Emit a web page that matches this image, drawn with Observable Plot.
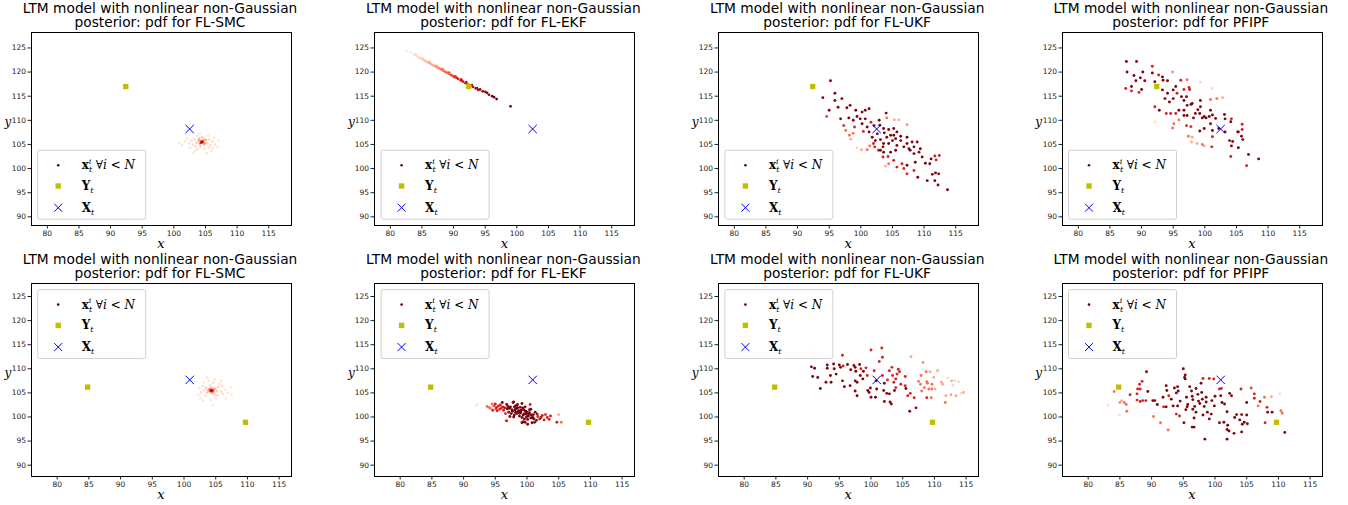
<!DOCTYPE html>
<html><head><meta charset="utf-8">
<script src="https://cdn.jsdelivr.net/npm/d3@7"></script>
<script src="https://cdn.jsdelivr.net/npm/@observablehq/plot@0.6"></script>
<style>
body{margin:0;background:#fff;}
#root{position:relative;width:1348px;height:505px;overflow:hidden;background:#fff;}
#root svg{position:absolute;}
</style></head><body><div id="root"></div>
<script>
// ---- data ----
const methods = ["FL-SMC", "FL-EKF", "FL-UKF", "PFIPF"];
const xTicks = [80, 85, 90, 95, 100, 105, 110, 115];
const yTicks = [90, 95, 100, 105, 110, 115, 120, 125];
const xDomTop = [77.5, 118.6], yDomTop = [88.2, 128.2];
const xDomBot = [75.95, 116.95], yDomBot = [87.65, 127.7];
const obsTop = [[92.4, 117.0]];
const truthTop = [[102.5, 108.2]];
const obsBot = [[84.8, 106.2], [109.7, 98.9]];
const truthBot = [[100.9, 107.7]];

// particles: [x, y, weight]
const smcTop = [[104.4,105.5,.9],[104.5,105.6,.75],[104.3,105.3,.65],[104.6,105.4,.55],[104.2,105.7,.45],[104.7,105.8,.4],[104.1,105.2,.4],[104.9,105.3,.35],[103.9,105.9,.3],[104.8,105.0,.3],[104.0,106.2,.25],[105.1,105.9,.25],[103.6,105.4,.2],[105.3,105.2,.2],[104.5,106.5,.18],[104.2,104.6,.18],[103.3,106.1,.16],[105.6,106.0,.16],[105.8,104.8,.14],[103.0,104.9,.14],[102.8,105.8,.13],[106.1,105.6,.13],[104.8,104.1,.13],[103.7,106.8,.12],[105.4,106.8,.12],[102.4,105.2,.11],[106.5,105.0,.11],[101.7,105.6,.1],[106.9,104.5,.1],[103.5,103.8,.11],[105.9,103.7,.1],[102.6,104.3,.1],[104.1,107.2,.1],[106.4,106.4,.1],[101.3,104.8,.09],[107.0,105.8,.09],[103.1,103.3,.09],[105.2,103.2,.09],[100.9,105.3,.09],[103.4,104.6,.14],[105.5,104.3,.13],[102.1,106.3,.1],[104.9,106.2,.15],[103.8,104.1,.12],[106.2,104.2,.1]];
const ekfTop = [[82.6,124.4,.08],[83.2,124.0,.1],[83.8,123.6,.12],[84.1,123.4,.13],[84.4,123.1,.15],[84.7,122.9,.16],[85.0,122.7,.18],[85.3,122.5,.2],[85.5,122.3,.22],[85.8,122.1,.25],[86.1,121.9,.27],[86.4,121.7,.29],[86.6,121.5,.3],[86.9,121.3,.33],[87.2,121.1,.35],[87.5,120.9,.38],[87.7,120.8,.4],[88.0,120.6,.43],[88.2,120.4,.45],[88.5,120.2,.48],[88.7,120.0,.5],[89.0,119.9,.53],[89.2,119.7,.55],[89.5,119.5,.58],[89.7,119.3,.6],[90.0,119.1,.63],[90.2,118.9,.65],[90.5,118.8,.68],[90.7,118.6,.7],[91.1,118.3,.72],[91.3,118.2,.74],[91.5,118.0,.75],[91.9,117.7,.78],[92.3,117.4,.8],[92.7,117.2,.82],[93.1,116.9,.85],[93.5,116.6,.87],[93.9,116.3,.9],[94.2,116.4,.92],[94.6,116.0,.93],[95.3,115.7,.95],[95.6,115.3,.95],[96.1,115.0,.97],[96.8,114.4,1],[99.0,112.9,1],
  [84.0,123.7,.12],[85.1,122.9,.18],[86.2,122.1,.26],[87.3,121.3,.34],[88.3,120.6,.44],[89.3,119.9,.55],[90.3,119.1,.66],[91.2,118.5,.73],[92.0,117.9,.78],[92.9,117.3,.84],[93.7,116.7,.88],[95.0,115.9,.94],[96.4,114.8,.97]];
const ukfTop = [[95.2,118.2,.95],[94.0,114.7,.95],[95.9,115.6,.95],[95.9,114.1,.95],[97.0,114.5,.95],[94.6,110.8,.6],[95.0,112.1,.95],[96.4,112.7,.95],[97.8,112.6,.95],[98.3,113.1,.95],[96.8,110.3,.95],[97.3,108.9,.72],[97.6,107.9,.48],[98.1,110.5,.95],[98.8,110.0,.95],[99.2,112.1,.95],[99.4,110.8,.95],[98.2,106.9,.48],[98.8,107.3,.48],[98.4,106.1,.28],[99.0,108.6,.72],[99.9,110.3,.95],[100.2,109.3,.95],[100.2,111.7,.95],[100.7,112.1,.95],[101.3,112.4,.95],[100.7,110.3,.95],[101.0,108.6,.95],[100.4,107.7,.72],[101.6,109.6,.72],[102.1,108.9,.95],[102.9,110.0,.95],[103.0,109.0,.95],[104.0,111.5,.95],[104.1,110.5,.48],[105.3,110.1,.3],[106.0,110.1,.3],[107.3,109.1,.38],[103.6,108.3,.95],[103.7,107.4,.95],[104.4,108.1,.95],[105.2,108.3,.95],[105.7,107.6,.95],[106.3,106.7,.95],[104.1,106.5,.95],[104.7,106.9,.95],[105.2,106.9,.95],[103.1,106.0,.95],[103.6,105.2,.95],[104.4,105.2,.95],[105.7,104.8,.95],[106.8,104.5,.95],[107.3,105.2,.95],[108.1,105.5,.95],[108.9,105.5,.95],[107.8,103.8,.95],[108.4,103.1,.95],[109.2,103.4,.95],[109.7,102.4,.95],[110.9,101.0,.95],[111.1,102.0,.95],[111.7,102.6,.72],[112.4,102.7,.72],[111.9,101.8,.72],[111.3,98.8,.95],[111.8,99.1,.95],[112.3,98.9,.95],[111.7,97.5,.95],[112.2,96.6,.95],[113.7,95.6,.95],[110.5,97.5,.95],[109.0,98.2,.95],[108.4,99.6,.72],[107.3,100.7,.95],[106.8,100.0,.72],[107.3,98.9,.72],[106.5,101.0,.72],[105.7,100.3,.72],[105.2,101.7,.72],[104.4,101.0,.48],[103.9,100.5,.28],[104.3,102.5,.72],[103.5,102.4,.72],[102.8,103.8,.72],[102.2,104.5,.72],[101.4,104.7,.48],[101.0,103.9,.48],[100.1,103.9,.3],[99.4,104.3,.15],[103.5,104.5,.95],[103.1,103.8,.95],[101.8,106.5,.95],[102.3,105.8,.95],[102.6,107.2,.95],[101.3,107.6,.95],[102.0,105.2,.72],[103.6,103.4,.95],[104.7,103.4,.95],[105.5,103.8,.95],[106.3,105.8,.95],[105.0,105.8,.95],[105.5,106.2,.95],[107.3,106.5,.95],[107.6,104.1,.95],[108.4,104.5,.95],[109.4,104.1,.95],[110.2,101.1,.95],[108.6,101.3,.95]];
const pfipfTop = [[87.6,122.2,.95],[89.2,122.2,.95],[87.7,120.0,.95],[87.5,116.6,.72],[88.4,117.0,.95],[88.4,116.1,.72],[88.8,119.3,.95],[89.8,118.8,.95],[89.1,118.2,.95],[90.2,120.0,.95],[90.5,118.2,.95],[90.0,116.4,.95],[89.6,115.8,.72],[91.7,121.2,.72],[91.7,119.8,.95],[92.7,119.4,.72],[93.3,119.0,.95],[93.4,118.3,.95],[94.1,118.2,.95],[94.9,120.0,.38],[92.1,118.0,.95],[92.1,112.8,.72],[92.8,112.1,.95],[93.3,116.3,.95],[93.7,114.5,.95],[94.1,115.6,.95],[94.4,113.8,.95],[95.0,116.3,.95],[95.0,114.5,.95],[95.4,117.0,.95],[95.6,115.6,.72],[96.2,118.3,.72],[96.7,116.4,.72],[96.3,114.9,.95],[96.7,114.1,.95],[97.1,114.9,.95],[97.2,118.4,.48],[97.5,116.8,.72],[97.6,116.4,.72],[97.8,113.3,.95],[97.2,113.1,.95],[98.0,113.5,.95],[96.7,112.1,.95],[95.9,112.1,.95],[95.4,111.4,.72],[94.6,111.4,.72],[93.9,111.4,.72],[95.9,110.1,.48],[95.1,109.3,.48],[94.9,108.4,.48],[96.7,111.0,.95],[97.2,111.0,.95],[97.1,108.9,.72],[97.8,108.7,.72],[97.4,106.7,.48],[98.0,106.5,.3],[97.9,105.5,.3],[98.8,105.2,.3],[98.2,110.5,.95],[98.5,111.4,.95],[98.9,112.2,.95],[99.3,114.1,.95],[99.3,112.8,.95],[99.2,111.4,.95],[99.6,110.5,.95],[99.9,110.8,.95],[100.2,110.5,.95],[99.9,108.3,.95],[99.2,107.8,.95],[99.3,117.9,.15],[99.6,105.0,.48],[99.9,104.7,.3],[100.9,112.1,.95],[101.2,111.1,.95],[100.7,110.8,.95],[100.9,109.3,.95],[101.2,107.9,.95],[101.2,106.6,.72],[101.1,104.5,.72],[101.1,116.6,.15],[101.9,114.5,.48],[100.9,114.3,.48],[101.7,110.4,.95],[102.2,108.3,.95],[103.1,111.2,.95],[103.2,110.3,.95],[102.8,114.7,.3],[103.2,107.6,.95],[104.2,110.3,.72],[104.1,109.7,.95],[103.9,105.8,.95],[104.4,105.6,.95],[104.2,104.7,.95],[104.1,102.5,.72],[105.2,107.6,.95],[105.3,107.6,.95],[105.3,104.3,.95],[105.9,109.2,.72],[105.9,108.1,.72],[105.8,106.7,.95],[106.0,106.0,.95],[106.9,102.9,.95],[106.6,100.6,.72],[108.5,102.0,.95],[92.1,109.7,.12]];
const smcBot = [[104.3,105.5,.9],[104.4,105.4,.75],[104.2,105.6,.65],[104.5,105.7,.55],[104.1,105.3,.5],[104.7,105.5,.45],[104.0,105.8,.4],[104.6,105.1,.35],[103.8,105.5,.3],[104.9,105.9,.28],[104.3,106.1,.25],[104.4,104.9,.25],[105.2,105.4,.2],[103.5,106.0,.2],[103.6,105.0,.18],[105.4,106.2,.17],[104.9,104.6,.16],[103.2,105.5,.15],[105.8,105.3,.14],[104.1,106.7,.14],[103.0,106.4,.13],[106.1,104.8,.13],[104.6,107.1,.12],[103.4,104.4,.12],[105.6,106.8,.12],[102.7,105.1,.11],[106.5,105.7,.11],[105.0,103.9,.11],[103.9,107.5,.1],[106.9,105.0,.1],[102.4,106.0,.1],[104.2,103.5,.1],[105.9,107.5,.09],[107.3,106.1,.09],[102.2,104.6,.09],[103.6,108.2,.09],[106.6,103.8,.09],[104.5,102.5,.09],[107.5,104.6,.09],[103.0,103.4,.09],[105.3,104.5,.15],[103.1,107.2,.1],[106.0,106.4,.12],[104.8,107.8,.09],[102.6,103.9,.09]];
const ekfBot = [[92.1,102.5,.12],[93.7,102.2,.48],[94.0,102.0,.48],[94.2,101.8,.48],[94.6,101.4,.72],[95.0,102.7,.72],[95.2,102.0,.72],[95.3,101.3,.72],[95.5,102.3,.72],[95.7,101.6,.72],[96.1,103.0,.95],[96.2,102.1,.72],[96.3,101.4,.72],[96.6,100.7,.72],[96.7,99.2,.48],[96.8,102.6,.95],[96.9,101.7,.95],[97.1,101.0,.95],[97.4,102.1,.95],[97.5,100.7,.95],[97.6,101.5,.95],[97.8,103.0,.95],[97.9,100.0,.95],[98.0,102.1,.95],[98.2,101.0,.95],[98.3,101.7,.95],[98.4,100.7,.95],[98.5,102.6,.95],[98.7,101.3,.95],[98.8,100.2,.95],[98.9,102.0,.95],[99.0,101.0,.95],[99.2,99.9,.95],[99.4,99.0,.95],[99.5,101.5,.95],[99.6,100.7,.95],[99.7,102.1,.95],[99.9,100.0,.95],[100.0,101.0,.95],[100.1,99.5,.95],[100.3,100.6,.95],[100.4,101.5,.95],[100.5,102.6,.72],[100.6,99.8,.95],[100.8,98.8,.95],[101.0,100.5,.95],[101.1,99.6,.95],[101.3,101.0,.95],[101.5,99.3,.95],[101.7,100.1,.72],[102.0,99.6,.72],[102.4,100.3,.72],[102.7,99.4,.72],[103.2,99.9,.72],[103.7,100.2,.72],[104.7,98.9,.72],[105.0,100.5,.3],[105.4,98.9,.48],[99.2,98.8,.95],[99.7,98.9,.95],[98.4,102.4,.95],[97.9,103.1,.95],[99.2,102.8,.95],[97.3,100.1,.95],[96.8,99.2,.72],[95.8,102.5,.72],[94.5,102.7,.48],[100.1,98.5,.95],
  [97.2,101.8,1],[97.7,101.2,1],[98.1,101.5,1],[98.5,101.9,1],[98.6,101.1,1],[98.9,100.8,1],[99.1,101.4,1],[99.3,101.9,1],[99.4,100.4,1],[99.8,101.2,1],[99.9,100.6,1],[100.2,100.2,1],[100.4,100.9,1],[100.7,100.4,1],[100.9,99.9,1],[98.2,102.3,.95],[97.0,102.2,.9],[96.5,101.9,.85],[101.6,100.6,.85],[102.2,99.9,.8],[101.2,98.9,.9],[96.0,101.9,.75],[98.0,100.4,.95],[99.6,99.6,.95],[100.6,101.6,.9],[95.1,101.7,.65],[94.8,102.3,.6],[102.9,100.5,.7],[103.5,99.5,.7]];
const ukfBot = [[90.4,113.7,.15],[90.6,110.4,.95],[91.1,110.1,.95],[90.8,108.4,.95],[91.6,108.2,.95],[92.0,105.9,.95],[92.9,107.2,.95],[93.1,110.8,.95],[93.1,110.1,.95],[93.6,108.6,.95],[93.7,107.2,.95],[94.1,111.0,.95],[94.2,110.0,.95],[94.5,108.9,.95],[95.0,110.8,.95],[95.2,110.3,.95],[95.5,112.8,.72],[95.6,110.6,.72],[95.5,107.5,.95],[95.8,106.3,.95],[96.3,110.9,.95],[96.7,106.5,.95],[96.8,109.8,.95],[97.3,110.7,.95],[97.5,110.3,.95],[97.6,109.5,.95],[97.5,107.5,.95],[97.8,107.2,.95],[97.5,105.4,.95],[97.8,104.4,.95],[98.2,110.9,.95],[98.4,110.0,.72],[98.3,108.6,.95],[98.7,107.9,.95],[98.8,109.5,.95],[99.2,110.2,.72],[99.4,108.6,.72],[99.5,105.5,.95],[99.7,105.1,.95],[99.9,106.0,.95],[100.0,113.9,.72],[100.5,109.6,.72],[100.8,107.5,.95],[100.9,105.8,.95],[100.7,104.1,.95],[100.0,104.1,.95],[101.3,111.5,.72],[101.7,114.3,.72],[101.8,112.4,.72],[101.8,108.6,.72],[102.1,107.0,.95],[102.0,105.5,.95],[102.1,103.2,.95],[102.5,104.9,.95],[102.9,104.8,.95],[103.0,103.1,.95],[103.2,102.7,.95],[102.6,107.7,.72],[102.9,109.6,.72],[103.3,110.3,.72],[103.4,108.6,.72],[103.6,107.2,.72],[103.9,107.9,.72],[104.1,108.9,.72],[104.3,109.9,.72],[104.5,109.4,.72],[103.9,106.1,.72],[103.7,105.5,.95],[104.7,106.8,.72],[105.4,108.4,.72],[105.4,106.5,.72],[105.5,105.9,.95],[105.8,104.4,.72],[106.2,104.9,.72],[106.1,101.2,.95],[106.3,112.5,.3],[106.8,104.0,.72],[107.1,101.9,.95],[107.5,107.4,.48],[107.8,106.8,.48],[107.9,108.6,.48],[108.2,111.3,.38],[108.0,105.4,.48],[108.4,106.1,.48],[108.7,109.4,.48],[108.8,104.0,.72],[108.9,107.0,.48],[109.1,105.8,.48],[109.3,109.4,.3],[109.5,104.0,.48],[109.6,106.8,.48],[109.6,105.8,.48],[109.9,108.2,.3],[110.1,105.8,.3],[110.5,109.6,.3],[111.1,107.2,.3],[111.3,106.8,.3],[111.7,103.0,.48],[111.8,104.4,.3],[112.1,108.1,.15],[112.6,104.6,.3],[112.7,107.5,.3],[112.9,106.6,.15],[113.2,107.6,.15],[113.4,104.4,.3],[113.8,107.3,.15],[114.2,104.9,.15],[114.6,105.1,.3],[108.8,107.3,.48]];
const pfipfBot = [[83.1,102.5,.12],[84.1,105.3,.48],[84.9,100.4,.12],[85.0,103.0,.38],[85.3,103.4,.3],[85.7,103.0,.48],[86.0,102.6,.48],[86.1,101.2,.48],[86.6,104.6,.72],[87.7,104.8,.72],[87.8,105.8,.72],[88.1,106.8,.72],[88.2,105.8,.72],[88.5,107.4,.72],[87.7,103.5,.72],[88.2,103.2,.72],[88.6,103.4,.72],[89.2,109.4,.95],[89.4,105.3,.95],[89.1,103.4,.72],[90.2,103.4,.95],[90.5,103.4,.95],[90.3,100.1,.48],[90.9,102.6,.95],[91.4,98.8,.48],[91.8,104.1,.95],[91.9,102.1,.72],[92.3,106.5,.95],[92.4,105.5,.95],[92.6,97.3,.48],[92.3,102.1,.95],[92.7,104.4,.72],[93.1,103.7,.95],[93.4,102.3,.95],[93.6,106.0,.95],[93.9,105.0,.95],[94.1,102.3,.95],[93.9,100.6,.72],[94.4,100.2,.72],[94.1,106.3,.95],[94.2,105.4,.95],[94.5,103.3,.95],[95.0,110.0,.95],[95.2,108.2,.95],[95.5,104.1,.95],[95.4,101.5,.95],[95.3,107.9,.95],[95.1,98.8,.95],[95.6,102.1,.95],[95.7,102.6,.95],[96.0,106.3,.95],[96.3,105.4,.95],[96.4,104.3,.95],[96.5,101.6,.95],[96.7,99.8,.95],[96.5,103.6,.95],[96.8,102.2,.95],[97.0,101.0,.95],[96.4,97.9,.95],[96.7,97.9,.95],[97.0,105.9,.95],[97.3,104.7,.95],[97.4,103.3,.95],[97.6,102.8,.95],[97.8,107.0,.95],[97.9,105.1,.95],[98.0,103.7,.95],[98.1,108.0,.72],[98.3,102.2,.95],[98.1,100.4,.95],[98.4,95.4,.95],[98.6,104.1,.95],[98.6,103.1,.95],[98.8,101.0,.95],[99.1,108.0,.72],[99.1,99.6,.95],[99.4,100.6,.95],[99.5,103.4,.95],[99.8,107.9,.72],[100.0,104.3,.95],[99.9,102.3,.95],[100.7,105.8,.72],[101.0,105.9,.72],[100.9,104.4,.95],[100.7,98.8,.95],[101.1,103.0,.95],[101.5,102.7,.95],[101.4,98.9,.95],[101.9,101.1,.95],[102.0,98.3,.95],[101.9,97.4,.95],[102.2,97.1,.95],[101.9,95.4,.95],[102.3,104.9,.95],[102.6,104.4,.95],[103.0,96.6,.95],[103.1,99.9,.95],[103.4,100.5,.95],[104.1,105.8,.72],[103.9,99.4,.95],[104.2,100.5,.95],[104.3,98.5,.95],[104.2,96.9,.95],[104.6,98.9,.95],[105.0,100.4,.95],[105.1,98.6,.95],[105.0,103.0,.95],[105.7,106.0,.6],[106.2,104.8,.72],[106.2,103.9,.72],[106.8,102.3,.48],[107.1,103.2,.72],[107.8,104.1,.48],[108.2,102.0,.72],[108.3,101.0,.95],[109.0,101.0,.95],[107.9,98.8,.72],[108.9,104.2,.3],[110.2,104.8,.12],[110.4,101.3,.48],[110.6,100.8,.48],[111.0,96.8,.95],[95.3,108.7,.95]];

// ---- layout ----
const boxLeft = [31, 374.4, 718.2, 1061.8];
const boxTop = [32.2, 282.6];
const W = 260, H = 193;
const ML = 34, MR = 6, MT = 6, MB = 22;

const panels = [
  {row: 0, col: 0, pts: smcTop, r: 1.3}, {row: 0, col: 1, pts: ekfTop, r: 1.35},
  {row: 0, col: 2, pts: ukfTop, r: 1.45}, {row: 0, col: 3, pts: pfipfTop, r: 1.45},
  {row: 1, col: 0, pts: smcBot, r: 1.3}, {row: 1, col: 1, pts: ekfBot, r: 1.45},
  {row: 1, col: 2, pts: ukfBot, r: 1.45}, {row: 1, col: 3, pts: pfipfBot, r: 1.45}
];
const root = document.getElementById("root");

for (const p of panels) {
  const top = p.row === 0;
  const chart = Plot.plot({
    width: W + ML + MR, height: H + MT + MB,
    marginLeft: ML, marginRight: MR, marginTop: MT, marginBottom: MB,
    style: {fontSize: "7.5px", fontFamily: "DejaVu Sans, sans-serif", color: "#222", background: "transparent", overflow: "visible"},
    x: {domain: top ? xDomTop : xDomBot, ticks: xTicks, tickSize: 3.5, tickPadding: 2, label: null},
    y: {domain: top ? yDomTop : yDomBot, ticks: yTicks, tickSize: 3.5, tickPadding: 2, label: null},
    color: {type: "linear", scheme: "reds", domain: [0, 1]},
    marks: [
      Plot.dot(p.pts, {x: d => d[0], y: d => d[1], fill: d => d[2], r: p.r, sort: d => d[2]}),
      Plot.dot(top ? obsTop : obsBot, {x: d => d[0], y: d => d[1], symbol: "square", fill: "#bfbf00", r: 3}),
      Plot.dot(top ? truthTop : truthBot, {x: d => d[0], y: d => d[1], symbol: "times", stroke: "#0000ff", r: 3.9, strokeWidth: 1}),
      Plot.frame({stroke: "#000", strokeWidth: 1})
    ]
  });
  chart.style.left = (boxLeft[p.col] - ML) + "px";
  chart.style.top = (boxTop[p.row] - MT) + "px";
  root.appendChild(chart);
}

// ---- overlay: titles, axis labels, legends ----
const ns = "http://www.w3.org/2000/svg";
let s = "";
for (const p of panels) {
  const bl = boxLeft[p.col], bt = boxTop[p.row];
  const cx = bl + W / 2 - 1;
  const t1 = bt - 19, t2 = bt - 4.8;
  s += `<text x="${cx}" y="${t1}" text-anchor="middle" font-family="DejaVu Sans" font-size="13.75">LTM model with nonlinear non-Gaussian</text>`;
  s += `<text x="${cx}" y="${t2}" text-anchor="middle" font-family="DejaVu Sans" font-size="13.75">posterior: pdf for ${methods[p.col]}</text>`;
  s += `<text x="${bl + W / 2}" y="${bt + H + 23}" text-anchor="middle" font-family="DejaVu Serif" font-style="italic" font-size="13">x</text>`;
  s += `<text x="${bl - 26.5}" y="${bt + 94}" font-family="DejaVu Serif" font-style="italic" font-size="12">y</text>`;
  // legend
  const lx = bl + 6.7;
  const ly = p.row === 0 ? bt + H - 6 - 69 : bt + 7;
  s += `<rect x="${lx}" y="${ly}" width="108" height="69" rx="2" fill="#fff" fill-opacity="0.8" stroke="#d0d0d0" stroke-width="1"/>`;
  const mx = lx + 20.5, tx = lx + 44;
  const r1 = ly + 15, r2 = ly + 35.8, r3 = ly + 57.5;
  s += `<circle cx="${mx}" cy="${r1}" r="1.3" fill="#67000d"/>`;
  s += `<rect x="${mx - 2.7}" y="${r2 - 2.7}" width="5.4" height="5.4" fill="#bfbf00"/>`;
  s += `<path d="M${mx - 4},${r3 - 4}L${mx + 4},${r3 + 4}M${mx - 4},${r3 + 4}L${mx + 4},${r3 - 4}" stroke="#0000ff" stroke-width="1"/>`;
  s += `<text x="${tx}" y="${r1 + 4}" font-family="DejaVu Serif" font-size="12"><tspan font-weight="bold">x</tspan><tspan font-style="italic" font-size="8" dy="-5.5">i</tspan><tspan font-style="italic" font-size="8" dx="-2.3" dy="8.5">t</tspan><tspan dx="3.5" dy="-3">∀</tspan><tspan font-style="italic">i</tspan><tspan> &lt; </tspan><tspan font-style="italic">N</tspan></text>`;
  s += `<text x="${tx}" y="${r2 + 4}" font-family="DejaVu Serif" font-size="12"><tspan font-weight="bold">Y</tspan><tspan font-style="italic" font-size="8" dy="3">t</tspan></text>`;
  s += `<text x="${tx}" y="${r3 + 4}" font-family="DejaVu Serif" font-size="12"><tspan font-weight="bold">X</tspan><tspan font-style="italic" font-size="8" dy="3">t</tspan></text>`;
}
const ov = document.createElementNS(ns, "svg");
ov.setAttribute("width", 1348); ov.setAttribute("height", 505);
ov.style.left = "0px"; ov.style.top = "0px"; ov.style.pointerEvents = "none";
ov.innerHTML = s;
root.appendChild(ov);
</script></body></html>
